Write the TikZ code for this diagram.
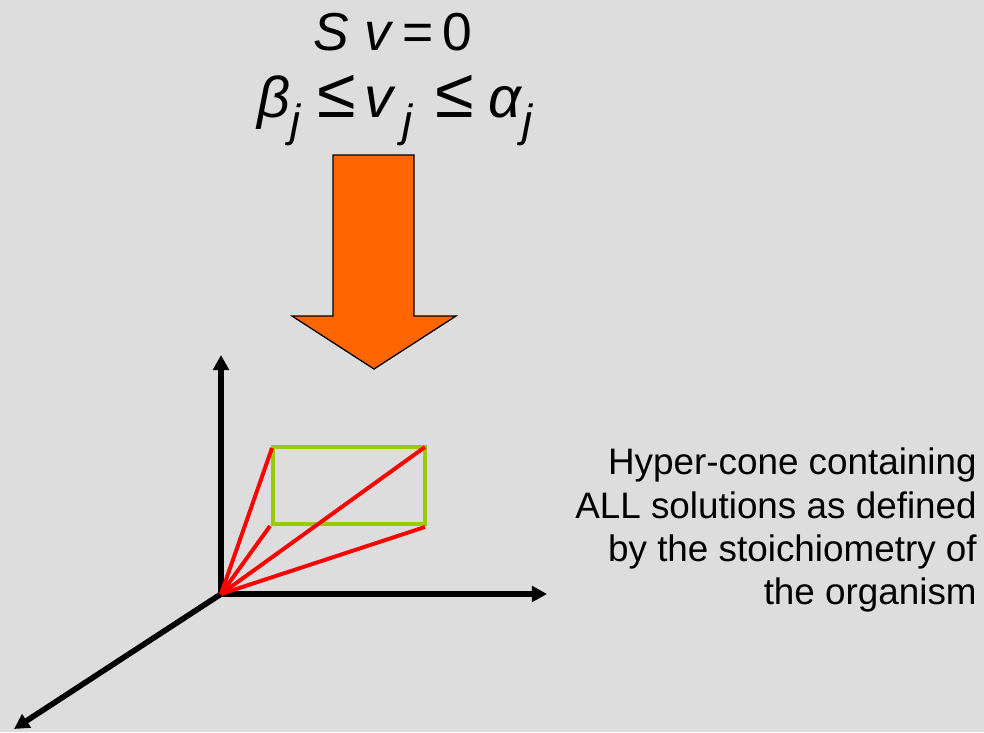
\documentclass[tikz,border=0pt]{standalone}
\usepackage{fontspec}
\setmainfont{Liberation Sans}
\usetikzlibrary{arrows.meta,calc}
\definecolor{fondo}{HTML}{DDDDDD}
\definecolor{naranja}{HTML}{FF6600}
\definecolor{verde}{HTML}{99CC00}
\definecolor{rojo}{HTML}{FF0000}
\newcommand{\idx}[1]{\raisebox{-0.34em}{\fontsize{32}{32}\selectfont\itshape #1}}
\newcommand{\menorig}{{\fontsize{50}{50}\selectfont ≤}}

\begin{document}
\begin{tikzpicture}[
      x=0.025cm, y=-0.025cm,
      ec/.style={font=\fontsize{38}{44}\selectfont, inner sep=0pt},
      ecb/.style={font=\fontsize{41}{44}\selectfont, inner sep=0pt},
      nota/.style={font=\fontsize{26.2}{30.6}\selectfont, align=right, inner sep=0pt},
      eje/.style={line width=4pt, -{Triangle[length=10.7pt, width=11pt]}},
      rayo/.style={draw=rojo, line width=2.8pt},
      caja/.style={draw=verde, line width=2.8pt},
      flecha/.style={fill=naranja, draw=black, line width=0.9pt, line join=miter},
    ]

    % =============== FONDO ===============================================
    \fill[fondo] (0,0) rectangle (984,732);
    \useasboundingbox (0,0) rectangle (984,732);

    % =============== ECUACIONES ==========================================
    \node[ec, anchor=base] (eq1) at (393,50) {\textit{S v}\,=\,0};
    \node[ecb, anchor=base] (eq2) at (395,117)
      {\textit{β}\idx{j}\hspace{0.3em}\menorig\hspace{0.15em}\textit{v}\hspace{0.1em}\idx{j}\hspace{0.4em}\menorig\hspace{0.25em}\textit{α}\idx{j}};

    % --- Flecha gruesa hacia abajo ---
    \filldraw[flecha] (333,155) -- (414,155) -- (414,316) -- (456,316)
      -- (374,369) -- (292,316) -- (333,316) -- cycle;

    % =============== EJES ================================================
    \coordinate (o)  at (221,594);
    \coordinate (ey) at (221,355);
    \coordinate (ex) at (547,594);
    \coordinate (ez) at (14,729);
    \draw[eje] (o) -- (ey);
    \draw[eje] (o) -- (ex);
    \draw[eje] (o) -- (ez);

    % =============== CAJA Y RAYOS ========================================
    \coordinate (c1) at (273,447);
    \coordinate (c2) at (425,447);
    \coordinate (c3) at (425,524);
    \coordinate (c4) at (273,524);
    \draw[caja] (c1) rectangle (c3);

    \draw[rayo] (o) -- ($(c1)+(-1,1)$);
    \draw[rayo] (o) -- ($(c4)+(-3,2)$);
    \draw[rayo] (o) -- (c2);
    \draw[rayo] (o) -- ($(c3)+(0,3)$);

    % =============== ROTULO ==============================================
    \node[nota, anchor=north east] (txt) at (977,448)
      {Hyper-cone containing\\ALL solutions as defined\\by the stoichiometry of\\the organism};
  \end{tikzpicture}
\end{document}
